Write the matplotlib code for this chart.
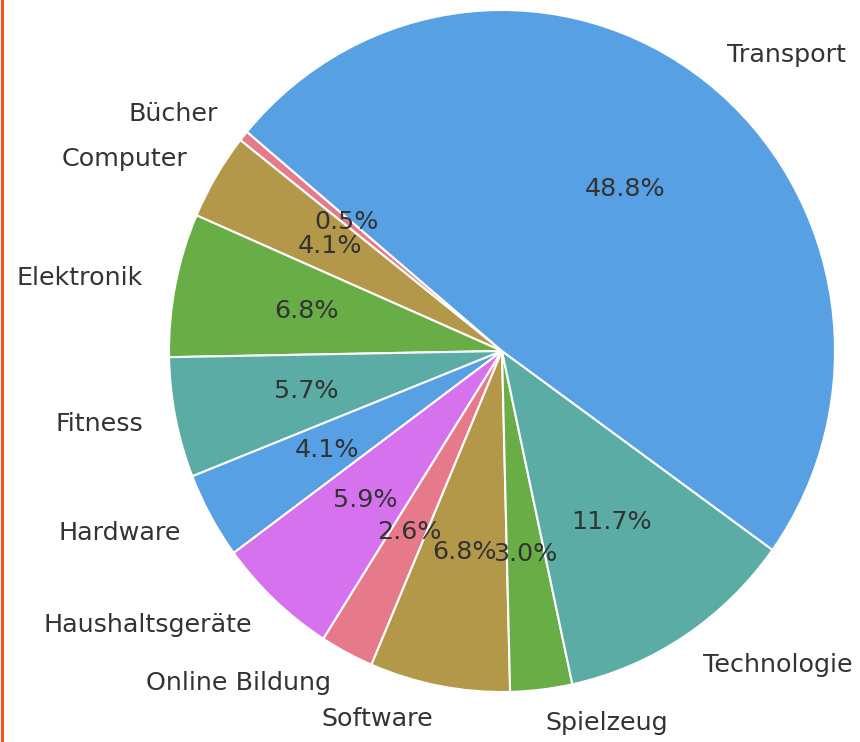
import matplotlib
matplotlib.use("Agg")
import matplotlib.pyplot as plt
from matplotlib.lines import Line2D

categories = ["Bücher", "Computer", "Elektronik", "Fitness", "Hardware",
              "Haushaltsgeräte", "Online Bildung", "Software", "Spielzeug",
              "Technologie", "Transport"]
shares = [0.5, 4.1, 6.8, 5.7, 4.1, 5.9, 2.6, 6.8, 3.0, 11.7, 48.8]

palette = ["#e67a8a", "#b4984a", "#69ad47", "#5aaca5", "#58a0e4", "#d772ee"]
colors = [palette[i % len(palette)] for i in range(len(categories))]

W, H = 860, 742
fig = plt.figure(figsize=(W / 100, H / 100), dpi=100)
ax = fig.add_axes([0, 0, 1, 1])

wedges, texts, autotexts = ax.pie(
    shares, labels=categories, colors=colors, autopct="%1.1f%%",
    startangle=140, counterclock=True, pctdistance=0.6, labeldistance=1.1,
    wedgeprops=dict(edgecolor="white", linewidth=1.5),
    textprops=dict(fontsize=18.3, color="#333333"),
)

# pie centre at (502, 351) px from top-left; slightly taller than wide
cx, cy = 502, H - 351
rx, ry = 333, 341
ax.set_xlim(-cx / rx, (W - cx) / rx)
ax.set_ylim(-cy / ry, (H - cy) / ry)
ax.set_aspect("auto")
ax.axis("off")

fig.add_artist(Line2D([1.5 / W, 1.5 / W], [0, 1], transform=fig.transFigure,
                      color="#f4511e", linewidth=2.2))

fig.savefig("out.png", dpi=100, facecolor="white")
